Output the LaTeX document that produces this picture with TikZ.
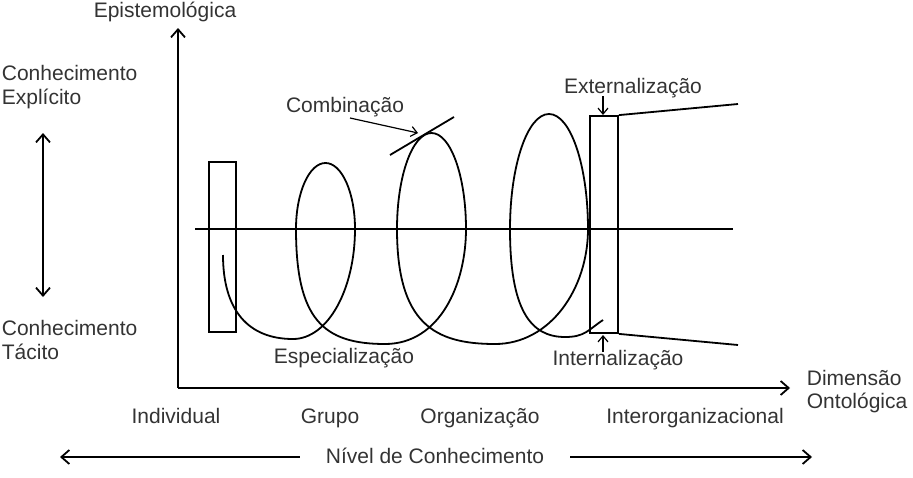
\documentclass[tikz,border=0pt]{standalone}
\usepackage{fontspec}
\setmainfont{Liberation Sans}
\usetikzlibrary{positioning, arrows.meta}

\begin{document}
\begin{tikzpicture}[x=1pt, y=1pt, line width=1.8pt,
  lbl/.style={inner sep=0pt, font=\fontsize{21}{24}\selectfont, text=black!80},
  box/.style={draw, inner sep=0pt},
  tip/.style={-{Straight Barb[length=8pt,width=14pt]}},
  smalltip/.style={-{Straight Barb[length=6pt,width=10pt]}}]
\useasboundingbox (0,0) rectangle (913,-477);

\node[lbl, anchor=base] at (165,-17) (epi) {Epistemológica};
\node[lbl, anchor=base west] at (1,-80) (ce1) {Conhecimento};
\node[lbl, anchor=base west] at (1,-104) (ce2) {Explícito};
\node[lbl, anchor=base west] at (1,-335) (ct1) {Conhecimento};
\node[lbl, anchor=base west] at (1,-359) (ct2) {Tácito};
\node[lbl, anchor=base west] at (806,-385) (dim1) {Dimensão};
\node[lbl, anchor=base west] at (806,-408) (dim2) {Ontológica};
\node[lbl, anchor=base] at (176,-423) (indiv) {Individual};
\node[lbl, anchor=base] at (330,-423) (grupo) {Grupo};
\node[lbl, anchor=base] at (480,-423) (org) {Organização};
\node[lbl, anchor=base] at (695,-423) (inter) {Interorganizacional};
\node[lbl, anchor=base] at (435,-463) (nivel) {Nível de Conhecimento};
\node[lbl, anchor=base] at (345,-112) (comb) {Combinação};
\node[lbl, anchor=base] at (633,-93) (ext) {Externalização};
\node[lbl, anchor=base] at (618,-365) (int) {Internalização};
\node[lbl, anchor=base] at (344,-363) (esp) {Especialização};

\coordinate (ytip) at (178,-28);
\coordinate (xtip) at (790,-388);
\draw[tip] (178,-388) -- (ytip);
\draw[tip] (178,-388) -- (xtip);
\coordinate (up) at (43,-133);
\coordinate (down) at (43,-297);
\draw[{Straight Barb[length=8pt,width=14pt]}-{Straight Barb[length=8pt,width=14pt]}] (up) -- (down);

\node[box, minimum width=27pt, minimum height=170pt] at (222.5,-247) (rect1) {};
\node[box, minimum width=28pt, minimum height=217pt] at (604,-224.5) (rect2) {};
\coordinate (mida) at (195,-229);
\coordinate (midb) at (733,-229);
\draw (mida) -- (midb);
\coordinate (fantop) at (738,-104);
\coordinate (fanbot) at (738,-345);
\draw (rect2.north east) -- (fantop);
\draw (rect2.south east) -- (fanbot);

\coordinate (s0) at (223,-255);
\coordinate (b0) at (293,-339);
\coordinate (r1) at (355,-229);
\coordinate (b1) at (385,-344);
\coordinate (r2) at (466,-229);
\coordinate (b2) at (495,-344);
\coordinate (r3) at (588,-229);
\coordinate (b3) at (565,-337);
\coordinate (e) at (603,-320);
\draw (s0) .. controls +(0,-55) and +(-45,0) .. (b0)
  .. controls +(35,0) and +(0,-60) .. (r1)
  arc[start angle=0, end angle=180, x radius=29.5pt, y radius=66pt]
  .. controls +(0,-90) and +(-62,0) .. (b1)
  .. controls +(55,0) and +(0,-55) .. (r2)
  arc[start angle=0, end angle=180, x radius=34.5pt, y radius=96pt]
  .. controls +(0,-95) and +(-60,0) .. (b2)
  .. controls +(55,0) and +(0,-60) .. (r3)
  arc[start angle=0, end angle=180, x radius=39pt, y radius=115pt]
  .. controls +(0,-80) and +(-35,0) .. (b3)
  .. controls +(20,0) and +(-15,-10) .. (e);

\coordinate (tana) at (390,-155);
\coordinate (tanb) at (454,-117);
\draw (tana) -- (tanb);
\coordinate (combtip) at (418,-133);
\draw[smalltip, line width=1.2pt] (350,-118) -- (combtip);
\draw[smalltip, line width=1.2pt] (603,-96) -- (603,-115);
\draw[smalltip, line width=1.2pt] (603,-352) -- (603,-335);

\coordinate (leftend) at (60,-457);
\coordinate (rightend) at (812,-457);
\draw[tip] ([xshift=-25pt, yshift=6pt]nivel.base west) -- (leftend);
\draw[tip] ([xshift=25pt, yshift=6pt]nivel.base east) -- (rightend);
\end{tikzpicture}
\end{document}
